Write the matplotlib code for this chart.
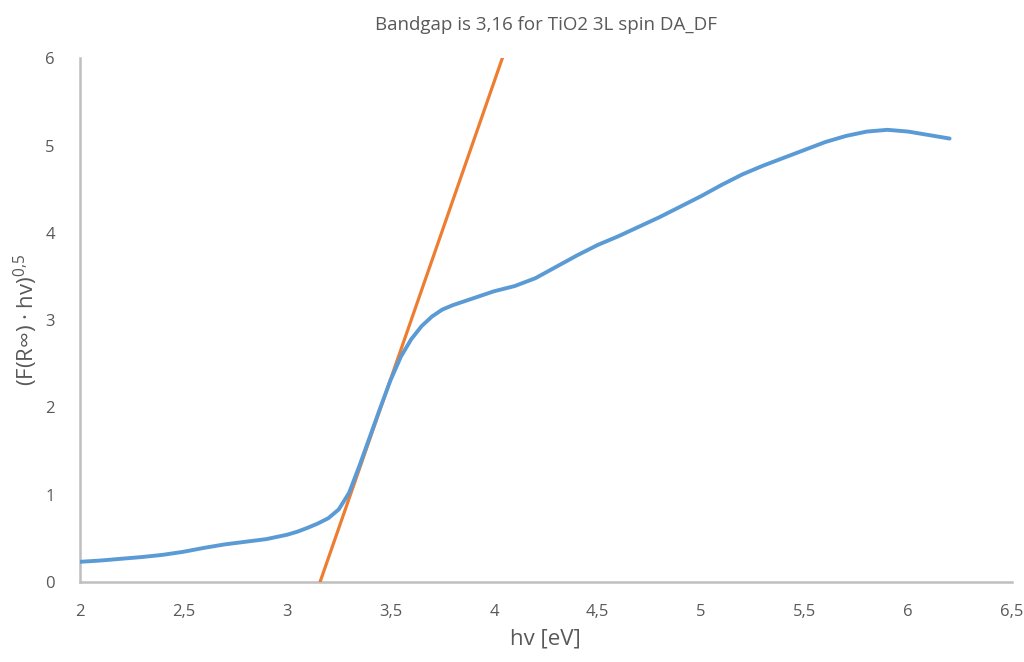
import matplotlib
matplotlib.use("Agg")
import matplotlib.pyplot as plt
from matplotlib.ticker import FuncFormatter

plt.rcParams['font.family'] = ['Open Sans', 'DejaVu Sans']
plt.rcParams['mathtext.fontset'] = 'custom'
plt.rcParams['mathtext.rm'] = 'Open Sans'

# Tauc plot data for TiO2 3L spin
hv = [2.0, 2.1, 2.2, 2.3, 2.4, 2.5, 2.6, 2.7, 2.8, 2.9,
      3.0, 3.05, 3.1, 3.15, 3.2, 3.25, 3.3, 3.35, 3.4, 3.45,
      3.5, 3.55, 3.6, 3.65, 3.7, 3.75, 3.8, 3.85, 3.9, 3.95,
      4.0, 4.1, 4.2, 4.3, 4.4, 4.5, 4.6, 4.7, 4.8, 4.9,
      5.0, 5.1, 5.2, 5.3, 5.4, 5.5, 5.6, 5.7, 5.8, 5.9,
      6.0, 6.1, 6.2]
tauc = [0.23, 0.245, 0.265, 0.285, 0.31, 0.345, 0.39, 0.43, 0.46, 0.49,
        0.54, 0.575, 0.62, 0.67, 0.73, 0.83, 1.02, 1.33, 1.66, 1.99,
        2.31, 2.58, 2.78, 2.93, 3.04, 3.12, 3.17, 3.21, 3.25, 3.29,
        3.33, 3.39, 3.48, 3.61, 3.74, 3.86, 3.96, 4.07, 4.18, 4.30,
        4.42, 4.55, 4.67, 4.77, 4.86, 4.95, 5.04, 5.11, 5.16, 5.18,
        5.16, 5.12, 5.08]

# linear fit of the absorption edge
fit_x = [3.16, 4.04]
fit_y = [0, 6]

fig = plt.figure(figsize=(10.24, 6.62), dpi=100)
ax = fig.add_axes([0.078, 0.121, 0.91, 0.791])

ax.plot(hv, tauc, color='#5B9BD5', lw=2.8, solid_capstyle='round', zorder=3)
ax.plot(fit_x, fit_y, color='#ED7D31', lw=2.3, zorder=2)

ax.set_xlim(2, 6.5)
ax.set_ylim(0, 6)
ax.set_xticks([2, 2.5, 3, 3.5, 4, 4.5, 5, 5.5, 6, 6.5])
ax.set_yticks([0, 1, 2, 3, 4, 5, 6])
comma = FuncFormatter(lambda v, p: ('%g' % v).replace('.', ','))
ax.xaxis.set_major_formatter(comma)
ax.yaxis.set_major_formatter(comma)

for s in ['top', 'right']:
    ax.spines[s].set_visible(False)
for s in ['left', 'bottom']:
    ax.spines[s].set_color('#BFBFBF')
    ax.spines[s].set_linewidth(1.8)
    ax.spines[s].set_zorder(1)
ax.tick_params(length=0, labelsize=12, labelcolor='#595959')
ax.tick_params(axis='x', pad=16)
ax.tick_params(axis='y', pad=18)

ax.set_title('Bandgap is 3,16 for TiO2 3L spin DA_DF', fontsize=13.5,
             color='#595959', pad=20)
ax.set_xlabel('hv [eV]', fontsize=16, color='#595959', labelpad=6)
ax.set_ylabel(r'(F(R∞) · hv)$^{\mathregular{0{,}5}}$', fontsize=16,
              color='#595959', labelpad=4)

fig.savefig('out.png', dpi=100, facecolor='white')
